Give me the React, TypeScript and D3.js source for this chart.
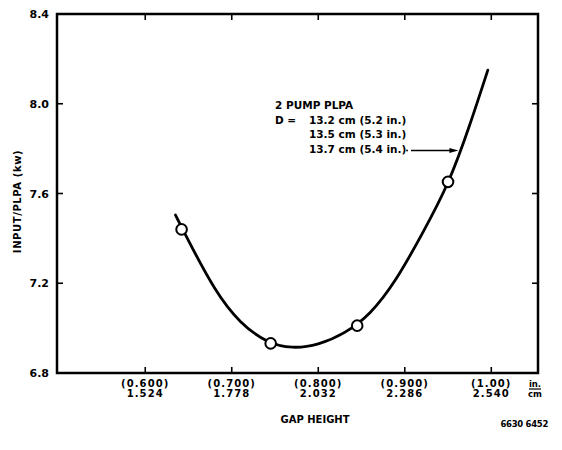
import React from "react";
import * as d3 from "d3";

// ---- data ----
const gapInches = [0.6, 0.7, 0.8, 0.9, 1.0];
const gapInchLabels = ["(0.600)", "(0.700)", "(0.800)", "(0.900)", "(1.00)"];
const gapCmLabels = ["1.524", "1.778", "2.032", "2.286", "2.540"];
const yTicks = [6.8, 7.2, 7.6, 8.0, 8.4];
const yTickLabels = ["6.8", "7.2", "7.6", "8.0", "8.4"];

// measured points (gap in inches, input/PLPA kW)
const pointGap = [0.642, 0.745, 0.845, 0.95];
const pointInput = [7.44, 6.932, 7.011, 7.652];

// faired curve
const curveGap = [0.635, 0.65, 0.68, 0.71, 0.74, 0.77, 0.8, 0.83, 0.86, 0.89, 0.92, 0.95, 0.975, 0.996];
const curveInput = [7.504, 7.39, 7.18, 7.03, 6.945, 6.915, 6.93, 6.98, 7.07, 7.22, 7.42, 7.65, 7.905, 8.15];

const legendLines = ["2 PUMP PLPA", "13.2 cm (5.2 in.)", "13.5 cm (5.3 in.)", "13.7 cm (5.4 in.)"];

const W = 562;
const H = 450;
const L = 57, R = 538, T = 14, B = 373;
const FONT = "'DejaVu Sans', sans-serif";

export default function App() {
  const x = d3.scaleLinear().domain([0.498, 1.054]).range([L, R]);
  const y = d3.scaleLinear().domain([6.8, 8.4]).range([B, T]);

  const line = d3
    .line<number>()
    .x((_, i) => x(curveGap[i]))
    .y((d) => y(d))
    .curve(d3.curveNatural);

  const curvePath = line(curveInput) || "";

  const legX = 275;
  const legNumX = 309;
  const legY0 = 109;
  const lh = 14.5;
  const arrowY = legY0 + 3 * lh - 2;
  const arrowStart = 411;
  const arrowEnd = x(0.962);

  return (
    <svg
      width={W}
      height={H}
      style={{ position: "absolute", left: 0, top: 0, background: "#fff" }}
      fontFamily={FONT}
      fontWeight="bold"
    >
      <rect x={0} y={0} width={W} height={H} fill="#fff" />
      {/* frame */}
      <rect x={L} y={T} width={R - L} height={B - T} fill="none" stroke="#000" strokeWidth={2.5} />

      {/* x ticks top & bottom */}
      {gapInches.map((g, i) => (
        <g key={"xt" + i}>
          <line x1={x(g)} x2={x(g)} y1={B} y2={B - 6} stroke="#000" strokeWidth={1.6} />
          <line x1={x(g)} x2={x(g)} y1={T} y2={T + 6} stroke="#000" strokeWidth={1.6} />
          <text x={x(g)} y={B + 14} textAnchor="middle" fontSize={10} letterSpacing={1.1}>
            {gapInchLabels[i]}
          </text>
          <text x={x(g)} y={B + 24} textAnchor="middle" fontSize={10} letterSpacing={1.1}>
            {gapCmLabels[i]}
          </text>
        </g>
      ))}

      {/* y ticks left & right */}
      {yTicks.map((v, i) => (
        <g key={"yt" + i}>
          {i > 0 && i < yTicks.length - 1 && (
            <>
              <line x1={L} x2={L + 6} y1={y(v)} y2={y(v)} stroke="#000" strokeWidth={1.6} />
              <line x1={R} x2={R - 6} y1={y(v)} y2={y(v)} stroke="#000" strokeWidth={1.6} />
            </>
          )}
          <text x={49} y={y(v) + 4} textAnchor="end" fontSize={11}>
            {yTickLabels[i]}
          </text>
        </g>
      ))}

      {/* unit fraction */}
      <text x={535} y={B + 14} textAnchor="middle" fontSize={8.5}>in.</text>
      <line x1={529} x2={541} y1={B + 16} y2={B + 16} stroke="#000" strokeWidth={1.2} />
      <text x={535} y={B + 24} textAnchor="middle" fontSize={8.5}>cm</text>

      {/* axis titles */}
      <text x={315} y={423} textAnchor="middle" fontSize={10}>GAP HEIGHT</text>
      <text
        transform={`translate(21,${(T + B) / 2 + 8}) rotate(-90)`}
        textAnchor="middle"
        fontSize={10}
        letterSpacing={0.6}
      >
        INPUT/PLPA (kw)
      </text>
      <text x={548} y={427} textAnchor="end" fontSize={8.5} letterSpacing={-0.3}>6630 6452</text>

      {/* curve */}
      <path d={curvePath} fill="none" stroke="#000" strokeWidth={2.8} strokeLinecap="round" />

      {/* points */}
      {pointGap.map((g, i) => (
        <circle key={"p" + i} cx={x(g)} cy={y(pointInput[i])} r={5.3} fill="#fff" stroke="#000" strokeWidth={2} />
      ))}

      {/* legend */}
      <text x={legX} y={legY0} fontSize={10.5}>{legendLines[0]}</text>
      <text x={legX} y={legY0 + lh} fontSize={10.5}>D =</text>
      {legendLines.slice(1).map((t, i) => (
        <text key={"lg" + i} x={legNumX} y={legY0 + lh * (i + 1)} fontSize={10.5}>
          {t}
        </text>
      ))}
      <circle cx={arrowStart - 4} cy={arrowY} r={0.9} fill="#000" />
      <line x1={arrowStart} x2={arrowEnd - 6} y1={arrowY} y2={arrowY} stroke="#000" strokeWidth={1.4} />
      <path
        d={`M${arrowEnd},${arrowY} L${arrowEnd - 9},${arrowY - 2.5} L${arrowEnd - 9},${arrowY + 2.5} Z`}
        fill="#000"
      />
    </svg>
  );
}
